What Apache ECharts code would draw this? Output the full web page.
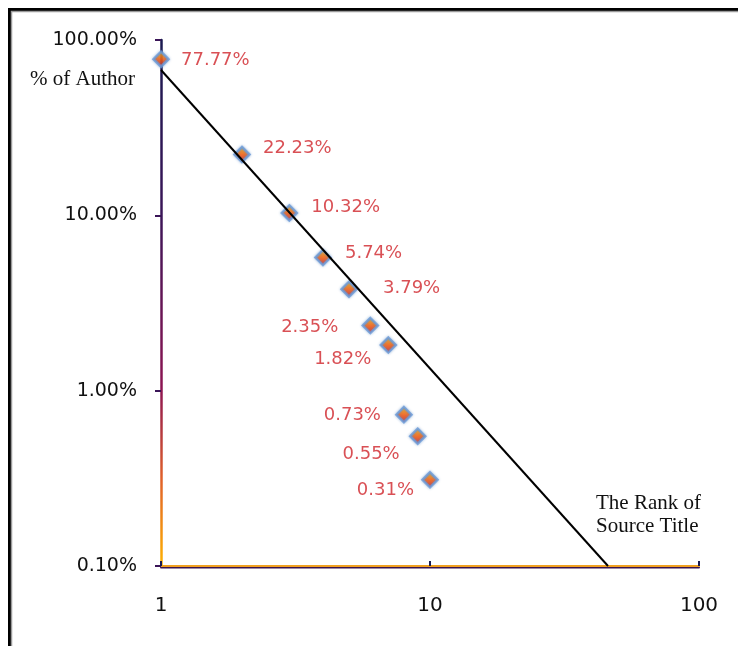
<!DOCTYPE html>
<html>
<head>
<meta charset="utf-8">
<script src="https://cdn.jsdelivr.net/npm/echarts@6/dist/echarts.min.js"></script>
<style>
html, body { margin: 0; padding: 0; background: #fff; }
#chart { width: 738px; height: 646px; }
</style>
</head>
<body>
<div id="chart"></div>
<script>
const ranks = [1, 2, 3, 4, 5, 6, 7, 8, 9, 10]
const authorShare = [77.77, 22.23, 10.32, 5.74, 3.79, 2.35, 1.82, 0.73, 0.55, 0.31]
// fitted line (start and end)
const trendRank = [1, 45.9]
const trendShare = [67.4, 0.1]

// label offset from marker centre: [dx, dy, align]
const labelPlace = [
  [20, 1, 'left'], [21, -6, 'left'], [22, -6, 'left'], [22, -4, 'left'], [34, -1, 'left'],
  [-32, 2, 'right'], [-17, 14, 'right'], [-23, 1, 'right'], [-18, 18, 'right'], [-16, 10, 'right']
]

const chart = echarts.init(document.getElementById('chart'))

const points = ranks.map((r, i) => ({
  value: [r, authorShare[i]],
  label: {
    align: labelPlace[i][2],
    offset: [labelPlace[i][0], labelPlace[i][1]]
  }
}))

const axisGrad = new echarts.graphic.LinearGradient(0, 0, 0, 1, [
  {offset: 0, color: '#1a1a50'},
  {offset: 0.33, color: '#3a1558'},
  {offset: 0.66, color: '#8c1452'},
  {offset: 0.83, color: '#e0602a'},
  {offset: 1, color: '#ffb400'}
])

const option = {
  animation: false,
  grid: {left: 161, right: 39, top: 40, bottom: 80},
  xAxis: {
    type: 'log',
    logBase: 10,
    min: 1,
    max: 100,
    splitLine: {show: false},
    axisLine: {
      lineStyle: {color: '#f0a020', width: 2, shadowColor: '#3a1550', shadowOffsetY: 1.5, shadowBlur: 0}
    },
    axisTick: {inside: true, length: 5, lineStyle: {color: '#1a1a50', width: 2}},
    axisLabel: {
      margin: 30,
      fontFamily: 'DejaVu Sans',
      fontSize: 20,
      color: '#111',
      formatter: v => String(Math.round(v))
    }
  },
  yAxis: {
    type: 'log',
    logBase: 10,
    min: 0.1,
    max: 100,
    splitLine: {show: false},
    axisLine: {lineStyle: {color: axisGrad, width: 2.5}},
    axisTick: {length: 6, lineStyle: {color: '#3a1558', width: 2}},
    axisLabel: {
      margin: 24,
      fontFamily: 'DejaVu Sans',
      fontSize: 19,
      color: '#111',
      formatter: v => v.toFixed(2) + '%'
    }
  },
  graphic: [
    {type: 'rect', shape: {x: 9.5, y: 9.5, width: 800, height: 800}, style: {fill: null, stroke: '#000', lineWidth: 3}, silent: true},
    {type: 'rect', shape: {x: 11.5, y: 11.5, width: 800, height: 800}, style: {fill: null, stroke: '#9a9a9a', lineWidth: 1.5}, silent: true},
    {type: 'text', left: 30, top: 69, style: {text: '% of Author', font: '21px "Liberation Serif"', fill: '#111'}},
    {type: 'text', left: 596, top: 492, style: {text: 'The Rank of\nSource Title', font: '21px "Liberation Serif"', lineHeight: 23, fill: '#111'}}
  ],
  series: [
    {
      type: 'scatter',
      symbol: 'diamond',
      symbolSize: 15,
      itemStyle: {
        color: new echarts.graphic.LinearGradient(0, 0, 0, 1, [
          {offset: 0, color: '#ffc000'},
          {offset: 0.5, color: '#ff5a00'},
          {offset: 1, color: '#e01010'}
        ]),
        borderColor: '#6a9ad8',
        borderWidth: 2.5,
        shadowBlur: 3,
        shadowColor: 'rgba(79,129,189,0.6)'
      },
      label: {
        show: true,
        position: 'inside',
        verticalAlign: 'middle',
        fontFamily: 'DejaVu Sans',
        fontSize: 18,
        color: '#d0242a',
        formatter: p => p.value[1].toFixed(2) + '%'
      },
      data: points
    },
    {
      type: 'line',
      symbol: 'none',
      lineStyle: {color: '#000', width: 2},
      data: trendRank.map((r, i) => [r, trendShare[i]])
    }
  ]
}

chart.setOption(option)
</script>
</body>
</html>
